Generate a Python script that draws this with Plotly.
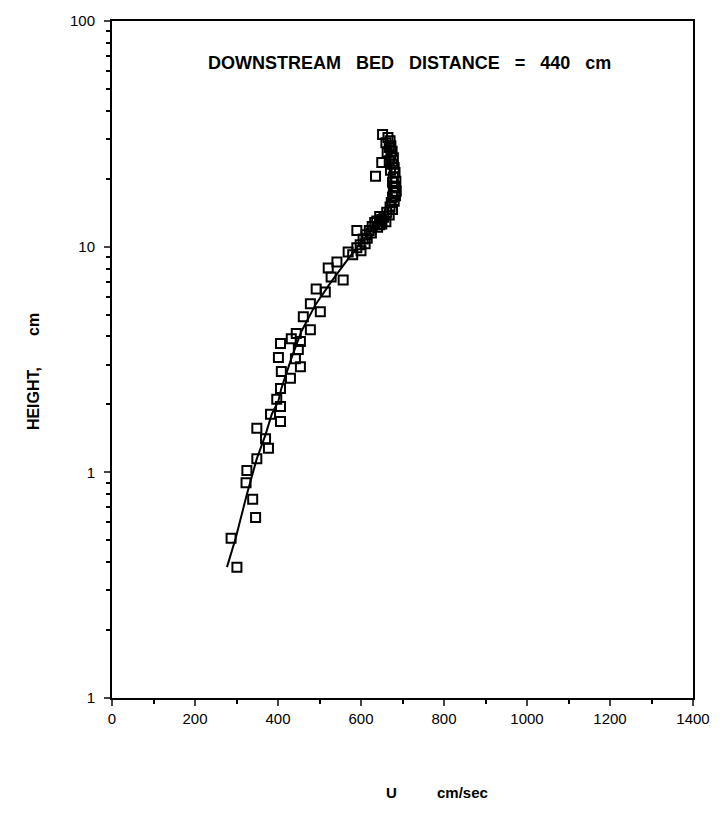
import plotly.graph_objects as go

# Measured points: velocity U (cm/sec) and height (cm)
u_obs = [652, 665, 670, 660, 672, 668, 675, 663, 672, 678, 668, 650, 676, 680, 671,
         682, 635, 678, 684, 676, 683, 680, 685, 678, 683, 676, 680, 673, 670, 676,
         662, 668, 655, 650, 660, 645, 640, 650,
         580, 590, 598, 605, 612, 620, 627, 633, 590, 600, 615, 625, 638, 645, 610,
         569, 542, 521, 557, 528, 492, 514, 478, 502, 461, 478, 444, 432, 454, 406,
         449, 401, 442, 454, 408, 430, 406, 397, 406, 382, 406, 349, 370, 377, 349,
         325, 323, 339, 346, 287, 301]
h_obs = [31.4, 30.5, 29.5, 28.9, 28.0, 27.5, 26.5, 26.1, 25.5, 24.8, 24.0, 23.6, 23.2, 22.4, 21.8,
         21.3, 20.5, 20.3, 19.5, 19.3, 18.5, 18.3, 17.6, 17.4, 16.8, 16.6, 15.9, 15.7, 15.0, 14.6,
         14.2, 13.8, 13.5, 13.2, 12.9, 12.5, 12.2, 12.6,
         9.2, 9.9, 10.2, 10.8, 11.3, 11.8, 12.3, 12.8, 11.8, 9.6, 10.9, 11.5, 13.0, 13.6, 10.3,
         9.47, 8.55, 8.05, 7.12, 7.34, 6.50, 6.30, 5.58, 5.15, 4.89, 4.28, 4.12, 3.91, 3.80, 3.72,
         3.50, 3.23, 3.19, 2.94, 2.80, 2.61, 2.35, 2.11, 1.96, 1.81, 1.68, 1.57, 1.41, 1.28, 1.15,
         1.02, 0.90, 0.76, 0.63, 0.51, 0.38]

# Fitted curve
u_fit = [277, 298, 325, 349, 370, 385, 401, 408, 432, 456, 490, 528, 569, 600, 621, 652, 669, 674, 669, 664]
h_fit = [0.38, 0.51, 0.80, 1.15, 1.47, 1.81, 2.07, 2.35, 3.19, 4.20, 5.52, 6.98, 8.82, 10.5, 11.6, 13.5, 16.6, 21.3, 26.0, 30.0]

x_ticks = [0, 200, 400, 600, 800, 1000, 1200, 1400]
y_ticks = [0.1, 1, 10, 100]
y_tick_text = ["1", "1", "10", "100"]
y_minor = [m * d for d in (0.1, 1, 10) for m in range(2, 10)]

FONT = "Liberation Sans, Arial, sans-serif"

fig = go.Figure()
fig.add_trace(go.Scatter(x=u_fit, y=h_fit, mode="lines",
                         line=dict(color="black", width=2), showlegend=False))
fig.add_trace(go.Scatter(x=u_obs, y=h_obs, mode="markers",
                         marker=dict(symbol="square-open", size=9, color="black",
                                     line=dict(color="black", width=2)),
                         showlegend=False))

fig.update_layout(
    width=722, height=828,
    margin=dict(l=112, r=24, t=18, b=130),
    paper_bgcolor="white", plot_bgcolor="white",
    font=dict(family=FONT, color="black", size=14),
    xaxis=dict(range=[0, 1400], tickvals=x_ticks, ticks="outside", ticklen=6, tickwidth=2,
               showgrid=False, zeroline=False, showline=True, linecolor="black", linewidth=2,
               mirror=True, tickfont=dict(size=15),
               minor=dict(dtick=100, ticks="outside", ticklen=4, tickwidth=2, tickcolor="black")),
    yaxis=dict(type="log", range=[-1, 2], tickvals=y_ticks, ticktext=y_tick_text,
               ticks="outside", ticklen=6, tickwidth=2, showgrid=False, zeroline=False,
               showline=True, linecolor="black", linewidth=2, mirror=True,
               tickfont=dict(size=15), ticklabelstandoff=6,
               minor=dict(tickvals=y_minor, ticks="outside", ticklen=4, tickwidth=2,
                          tickcolor="black")),
)

NB = "\u00a0"
title_txt = ("DOWNSTREAM" + NB * 3 + "BED" + NB * 3 + "DISTANCE" + NB * 3 + "=" + NB * 3 +
             "440" + NB * 3 + "cm")
fig.add_annotation(text="<b>" + title_txt + "</b>", xref="paper", yref="paper",
                   x=(412 - 112) / 586, y=(698 - 60) / 680, xanchor="center", yanchor="middle",
                   showarrow=False, font=dict(size=18))
fig.add_annotation(text="<b>HEIGHT," + NB * 7 + "cm</b>", xref="paper", yref="paper",
                   x=(33 - 112) / 586, y=(698 - 370) / 680, xanchor="center", yanchor="middle",
                   textangle=-90, showarrow=False, font=dict(size=16))
fig.add_annotation(text="<b>U</b>", xref="paper", yref="paper",
                   x=(394 - 112) / 586, y=(698 - 793) / 680, xanchor="center", yanchor="middle",
                   showarrow=False, font=dict(size=15))
fig.add_annotation(text="<b>cm/sec</b>", xref="paper", yref="paper",
                   x=(466 - 112) / 586, y=(698 - 793) / 680, xanchor="center", yanchor="middle",
                   showarrow=False, font=dict(size=15))

fig.write_html("out.html")
